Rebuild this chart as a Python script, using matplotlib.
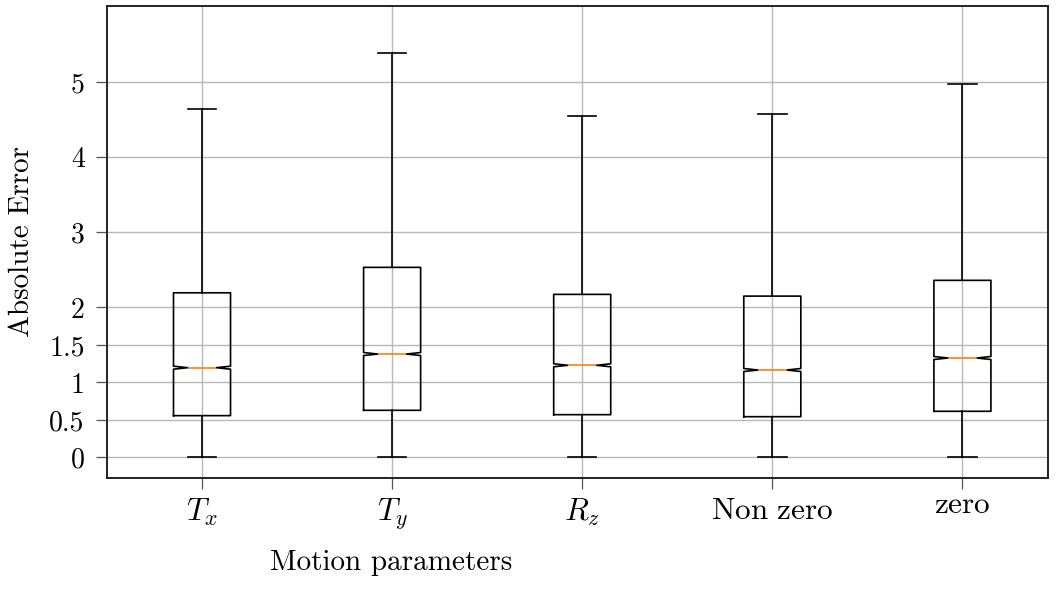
import matplotlib
matplotlib.use('Agg')
import matplotlib.pyplot as plt
import matplotlib.transforms as mtransforms

plt.rcParams['font.family'] = 'cmr10'
plt.rcParams['mathtext.fontset'] = 'cm'
plt.rcParams['axes.formatter.use_mathtext'] = True

# values
labels = [r'$T_x$', r'$T_y$', r'$R_z$', r'$\mathrm{Non\ zero}$', r'$\mathrm{zero}$']
whislo = [0.0, 0.0, 0.0, 0.0, 0.0]
q1 = [0.557, 0.628, 0.570, 0.543, 0.615]
med = [1.196, 1.378, 1.228, 1.165, 1.325]
q3 = [2.194, 2.533, 2.173, 2.150, 2.360]
whishi = [4.644, 5.386, 4.547, 4.574, 4.973]
notch_half = [0.02, 0.02, 0.02, 0.02, 0.02]

yticks = [0, 0.5, 1, 1.5, 2, 3, 4, 5]
ytick_labels = ['0', '0.5', '1', '1.5', '2', '3', '4', '5']

stats = []
for i in range(len(labels)):
    stats.append({
        'label': labels[i],
        'whislo': whislo[i], 'q1': q1[i], 'med': med[i],
        'q3': q3[i], 'whishi': whishi[i],
        'cilo': med[i] - notch_half[i], 'cihi': med[i] + notch_half[i],
        'fliers': [],
    })

fig = plt.figure(figsize=(10.58, 5.99), dpi=100)
ax = fig.add_axes([0.1011, 0.2025, 0.8894, 0.788])

line = dict(color='black', linewidth=1.2)
ax.bxp(stats, positions=range(1, len(labels) + 1), widths=0.3,
       shownotches=True, showfliers=False,
       boxprops=line, whiskerprops=line, capprops=line,
       medianprops=dict(color='#ff7f0e', linewidth=1.2))

ax.set_xlim(0.5, 5.45)
ax.set_ylim(-0.27, 6.02)
ax.set_yticks(yticks)
ax.set_yticklabels(ytick_labels)

ax.set_axisbelow(True)
ax.grid(True, color='#b8b8b8', linewidth=1.0)

for s in ax.spines.values():
    s.set_linewidth(1.4)
    s.set_color('#222222')

ax.tick_params(axis='both', direction='out', length=8, width=0.9,
               color='#555555', labelsize=20, pad=8)
ax.tick_params(axis='x', pad=6)
for t in ax.get_xticklabels():
    t.set_fontsize(22.5)

# the short "zero" label sits a little higher, as in the reference
last = ax.get_xticklabels()[-1]
last.set_transform(last.get_transform() +
                   mtransforms.ScaledTranslation(0, 6 / 100, fig.dpi_scale_trans))

ax.set_xlabel('Motion parameters', fontsize=21)
ax.xaxis.set_label_coords(0.302, -0.152)
ax.set_ylabel('Absolute Error', fontsize=21)
ax.yaxis.set_label_coords(-0.077, 0.5)

plt.savefig('out.png', dpi=100)
